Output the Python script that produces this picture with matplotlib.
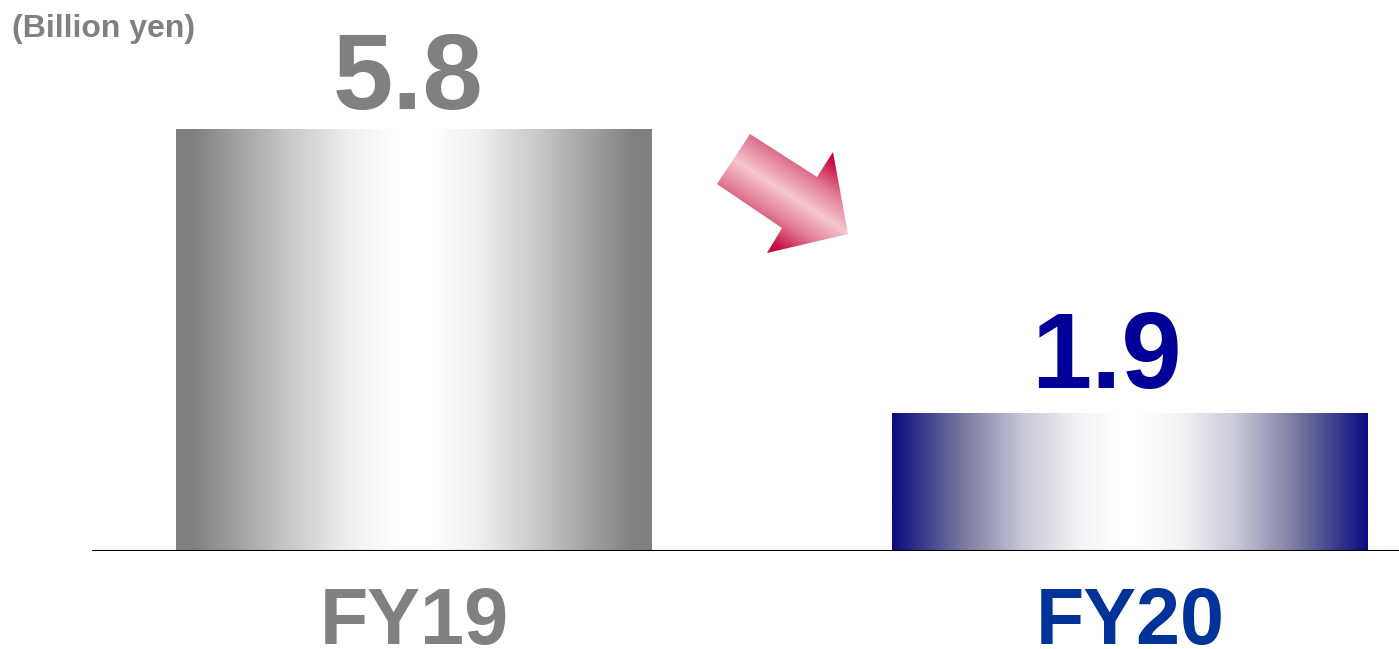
import numpy as np
import matplotlib
matplotlib.use('Agg')
import matplotlib.pyplot as plt
from matplotlib.colors import LinearSegmentedColormap
from matplotlib.patches import Polygon

# data
categories = ['FY19', 'FY20']
values = [5.8, 1.9]
value_labels = ['5.8', '1.9']
unit_label = '(Billion yen)'

W, H = 1399, 649
fig = plt.figure(figsize=(W / 100, H / 100), dpi=100)
plt.rcParams['font.family'] = ['Liberation Sans', 'DejaVu Sans']

# main axes: baseline at y=551 px, from x=92 px to the right edge
ax = fig.add_axes([92 / W, (H - 551) / H, 1 - 92 / W, 551 / H])
for s in ax.spines.values():
    s.set_visible(False)
ax.set_yticks([])

bar_w = 0.665
gray_cmap = LinearSegmentedColormap.from_list(
    'g', [(0, '#808080'), (0.08, '#828282'), (0.45, '#c4c4c4'),
          (0.72, '#eeeeee'), (0.92, '#ffffff'), (1, '#ffffff')])
blue_cmap = LinearSegmentedColormap.from_list(
    'b', [(0, '#0c0c80'), (0.3, '#7a7aa2'), (0.55, '#c8c8d6'),
          (0.78, '#f2f2f5'), (0.95, '#ffffff'), (1, '#ffffff')])
cmaps = [gray_cmap, blue_cmap]

bars = ax.bar(range(len(values)), values, width=bar_w, color='none')
xs = np.linspace(-1, 1, 400)
prof = 1 - np.abs(xs)
for b, cm in zip(bars, cmaps):
    x0, y0 = b.get_x(), b.get_y()
    img = cm(prof)[np.newaxis, :, :]
    ax.imshow(img, extent=[x0, x0 + b.get_width(), y0, y0 + b.get_height()],
              aspect='auto', interpolation='bilinear', zorder=2)
ax.set_xlim(-0.45, 1.376)
ax.set_ylim(0, 551 / 72.6)

ax.axhline(0, color='black', lw=1.5, zorder=3)

# value labels
val_colors = ['#808080', '#000099']
val_dx = [-6, -23]
val_dy = [21, 25]
for i, (v, t) in enumerate(zip(values, value_labels)):
    ax.annotate(t, xy=(i, v), xytext=(val_dx[i] * 0.72, val_dy[i] * 0.72),
                textcoords='offset points', ha='center', va='baseline',
                fontsize=78, fontweight='bold', color=val_colors[i])

# category labels
ax.set_xticks(range(len(categories)))
ax.set_xticklabels(categories, fontsize=57, fontweight='bold')
ax.tick_params(axis='x', length=0, pad=25)
for lbl, c in zip(ax.get_xticklabels(), ['#808080', '#003399']):
    lbl.set_color(c)

fig.text(12 / W, 1 - 14 / H, unit_label, ha='left', va='top', fontsize=23,
         fontweight='bold', color='#808080')

# decorative arrow in pixel space
ov = fig.add_axes([0, 0, 1, 1])
ov.axis('off')
pts = [(750, 134), (817, 177), (833, 152), (848, 234), (767, 253), (782, 228), (717, 184)]
poly = Polygon(pts, closed=True, facecolor='none', edgecolor='none')
ov.add_patch(poly)
u = np.array([67.0, 43.0]); u /= np.linalg.norm(u)
n = np.array([-u[1], u[0]])
cx, cy = 733.5, 159.0
gx, gy = np.meshgrid(np.arange(700, 870), np.arange(120, 270))
t = np.abs((gx - cx) * n[0] + (gy - cy) * n[1]) / 52.0
arrow_cmap = LinearSegmentedColormap.from_list(
    'a', [(0, '#f6c6cf'), (0.5, '#e07a93'), (1, '#c8063f')])
im = ov.imshow(arrow_cmap(np.clip(t, 0, 1)), extent=[700, 870, 270, 120],
               interpolation='bilinear', zorder=2)
im.set_clip_path(poly)
ov.set_xlim(0, W)
ov.set_ylim(H, 0)

fig.savefig('out.png', dpi=100)
